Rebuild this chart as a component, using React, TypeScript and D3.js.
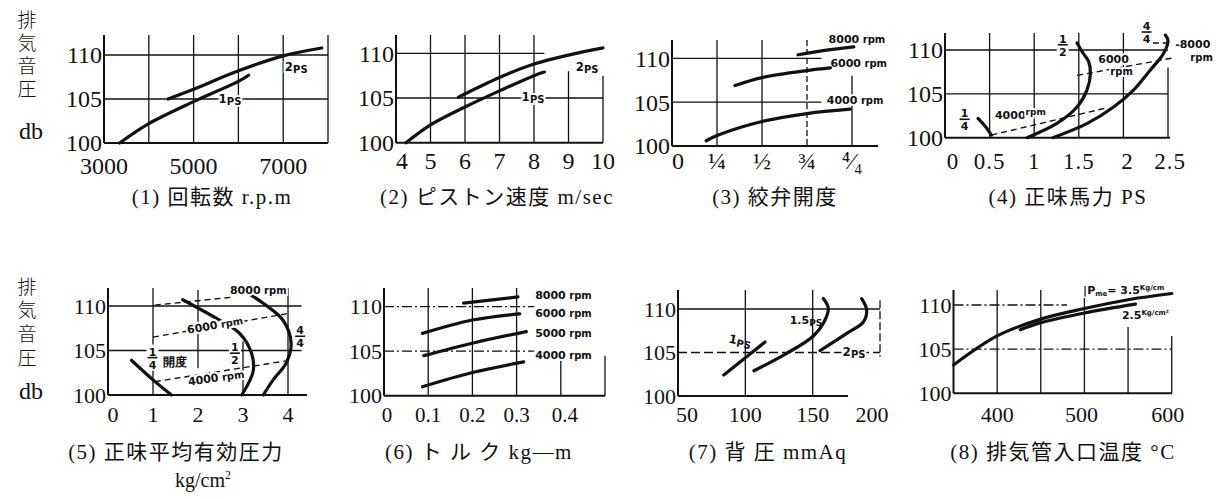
import React from "react";
import * as d3 from "d3";

type Pt = [number, number];

// ---------- data ----------
const yTickValues = [100, 105, 110];
const yTickLabels = ["100", "105", "110"];
const yTitleText = "排気音圧";
const yUnit = "db";

// (1) rpm
const p1TickValues = [3000, 5000, 7000];
const p1TickLabels = ["3000", "5000", "7000"];
const p1Curve1PS: Pt[] = [[3350, 100], [4000, 102.2], [5000, 104.7], [6000, 107.0], [6230, 107.7]];
const p1Curve2PS: Pt[] = [[4430, 105.0], [5000, 106.1], [6000, 108.2], [7000, 109.9], [7860, 110.8]];

// (2) piston speed
const p2TickValues = [4, 5, 6, 7, 8, 9, 10];
const p2TickLabels = ["4", "5", "6", "7", "8", "9", "10"];
const p2Curve1PS: Pt[] = [[4.29, 100], [5, 102.0], [6, 104.0], [7, 105.8], [8, 107.5], [8.3, 107.9]];
const p2Curve2PS: Pt[] = [[5.81, 105.1], [7, 107.3], [8, 108.8], [9, 109.8], [10, 110.6]];

// (3) throttle opening
const p3TickValues = [0, 0.25, 0.5, 0.75, 1];
const p3TickLabels = ["0", "¼", "½", "¾", "⁴⁄₄"];
const p3Curve4000: Pt[] = [[0.19, 100.6], [0.25, 101.2], [0.5, 102.8], [0.75, 103.7], [0.99, 104.2]];
const p3Curve6000: Pt[] = [[0.35, 106.9], [0.5, 107.8], [0.75, 108.6], [0.88, 108.9]];
const p3Curve8000: Pt[] = [[0.7, 110.4], [0.85, 110.9], [1.01, 111.3]];

// (4) brake horsepower
const p4TickValues = [0, 0.5, 1, 1.5, 2, 2.5];
const p4TickLabels = ["0", "0.5", "1", "1.5", "2", "2.5"];
const p4Throttle14: Pt[] = [[0.37, 102.2], [0.45, 101.3], [0.52, 100.3]];
const p4Throttle12: Pt[] = [[0.92, 100], [1.25, 101.6], [1.48, 103.5], [1.59, 105.4], [1.63, 107.3], [1.61, 108.7], [1.55, 109.6], [1.48, 110.8]];
const p4Throttle44: Pt[] = [[1.21, 100], [1.59, 101.6], [1.89, 103.5], [2.11, 105.4], [2.3, 107.7], [2.45, 109.6], [2.5, 111.1], [2.47, 111.7]];
const p4Rpm4000: Pt[] = [[0.52, 100.3], [1.81, 103.4]];
const p4Rpm6000: Pt[] = [[1.48, 107.1], [2.56, 109.1]];
const p4Rpm8000: Pt[] = [[2.33, 110.8], [2.55, 110.8]];

// (5) brake mean effective pressure
const p5TickValues = [0, 1, 2, 3, 4];
const p5TickLabels = ["0", "1", "2", "3", "4"];
const p5Throttle14: Pt[] = [[0.52, 103.9], [1.0, 101.7], [1.41, 100]];
const p5Throttle12: Pt[] = [[1.66, 110.7], [2.41, 108.6], [2.93, 106.9], [3.19, 104.7], [3.23, 102.8], [3.12, 101.3], [2.97, 100]];
const p5Throttle44: Pt[] = [[2.9, 112.1], [3.45, 110.3], [3.89, 108.4], [4.07, 105.8], [3.96, 103.6], [3.67, 101.7], [3.45, 100]];
const p5Rpm4000: Pt[] = [[1.04, 101.5], [4.04, 103.9]];
const p5Rpm6000: Pt[] = [[1.0, 106.5], [4.04, 109.2]];
const p5Rpm8000: Pt[] = [[1.04, 110.1], [2.78, 111.0]];

// (6) torque
const p6TickValues = [0, 0.1, 0.2, 0.3, 0.4];
const p6TickLabels = ["0", "0.1", "0.2", "0.3", "0.4"];
const p6Curve4000: Pt[] = [[0.087, 101.0], [0.2, 102.6], [0.316, 103.8]];
const p6Curve5000: Pt[] = [[0.09, 104.5], [0.2, 105.9], [0.322, 107.2]];
const p6Curve6000: Pt[] = [[0.087, 107.0], [0.2, 108.5], [0.307, 109.2]];
const p6Curve8000: Pt[] = [[0.18, 110.4], [0.303, 111.1]];

// (7) back pressure
const p7TickValues = [50, 100, 150, 200];
const p7TickLabels = ["50", "100", "150", "200"];
const p7Curve1PS: Pt[] = [[84, 102.4], [114.6, 106.2]];
const p7Curve15PS: Pt[] = [[106.4, 102.9], [130.7, 104.9], [150.5, 106.9], [159.1, 108.7], [161.6, 110.1], [157.9, 111.2]];
const p7Curve2PS: Pt[] = [[155.4, 105.2], [175.3, 107.2], [187.6, 108.5], [190.1, 109.9], [186.4, 111.2]];

// (8) exhaust inlet temperature
const p8TickValues = [400, 500, 600];
const p8TickLabels = ["400", "500", "600"];
const p8Curve35: Pt[] = [[350, 103.2], [400, 106.5], [450, 108.4], [500, 109.6], [550, 110.6], [600, 111.3]];
const p8Curve25: Pt[] = [[426.5, 107.2], [450, 108.0], [500, 109.1], [558.5, 110.1]];

const titles = [
  "(1) 回転数 r.p.m",
  "(2) ピストン速度 m/sec",
  "(3) 絞弁開度",
  "(4) 正味馬力 PS",
  "(5) 正味平均有効圧力",
  "(6) ト ル ク kg—m",
  "(7) 背 圧 mmAq",
  "(8) 排気管入口温度 °C",
];

// ---------- rendering ----------
const INK = "#111";
const SERIF = "'Liberation Serif', 'DejaVu Serif', 'Noto Sans CJK JP', serif";
const HAND = "'DejaVu Sans', 'Liberation Sans', sans-serif";

interface Ann {
  x: number;
  y: number;
  kind?: "text" | "frac";
  node?: React.ReactNode;
  num?: string;
  den?: string;
  anchor?: "start" | "middle" | "end";
  rot?: number;
  size?: number;
  halo?: boolean;
}
interface VG { v: number; from?: number; to?: number; dash?: string }
interface HG { v: number; end: number; dash?: string }
interface Cfg {
  xd: [number, number];
  xr: [number, number];
  y100: number;
  y110: number;
  top: number;
  axisEnd: number;
  ticks: number[];
  tickLabels: string[];
  tickDx?: number[];
  tickBase: number;
  tickSize: number;
  tickSpacing?: number;
  ySize: number;
  vGrid: VG[];
  hGrid: HG[];
  solid: Pt[][];
  dashed: Pt[][];
  anns: Ann[];
}

const ps = (n: string, s = 11) => (
  <>
    <tspan fontSize={s + 1}>{n}</tspan>
    <tspan fontSize={s - 1} dy={2}>PS</tspan>
  </>
);

function Panel({ c }: { c: Cfg }) {
  const x = d3.scaleLinear().domain(c.xd).range(c.xr);
  const y = d3.scaleLinear().domain([100, 110]).range([c.y100, c.y110]);
  const line = d3
    .line<Pt>()
    .x((d) => x(d[0]))
    .y((d) => y(d[1]))
    .curve(d3.curveCatmullRom.alpha(0.5));
  const x0 = c.xr[0];
  return (
    <g>
      {c.hGrid.map((g, i) => (
        <line key={"h" + i} x1={x0} x2={x(g.end)} y1={y(g.v)} y2={y(g.v)} stroke={INK} strokeWidth={1.3} strokeDasharray={g.dash} />
      ))}
      {c.vGrid.map((g, i) => (
        <line
          key={"v" + i}
          x1={x(g.v)}
          x2={x(g.v)}
          y1={g.from != null ? y(g.from) : c.top}
          y2={g.to != null ? y(g.to) : c.y100}
          stroke={INK}
          strokeWidth={1.3}
          strokeDasharray={g.dash}
        />
      ))}
      <line x1={x0} x2={x0} y1={c.top} y2={c.y100} stroke={INK} strokeWidth={2} />
      <line x1={x0} x2={c.axisEnd} y1={c.y100} y2={c.y100} stroke={INK} strokeWidth={2} />
      {yTickValues.map((v, i) => (
        <text key={"yt" + i} x={x0 - 2} y={y(v)} dy="0.35em" textAnchor="end" fontSize={c.ySize} fontFamily={SERIF} fill={INK}>
          {yTickLabels[i]}
        </text>
      ))}
      {c.ticks.map((v, i) => (
        <text
          key={"xt" + i}
          x={x(v) + (c.tickDx ? c.tickDx[i] : 0)}
          y={c.tickBase}
          textAnchor="middle"
          fontSize={c.tickSize}
          fontFamily={SERIF}
          letterSpacing={c.tickSpacing || 0}
          fill={INK}
        >
          {c.tickLabels[i]}
        </text>
      ))}
      {c.dashed.map((d, i) => (
        <path key={"d" + i} d={line(d) || ""} fill="none" stroke={INK} strokeWidth={1.4} strokeDasharray="6,4" />
      ))}
      {c.solid.map((d, i) => (
        <path key={"s" + i} d={line(d) || ""} fill="none" stroke={INK} strokeWidth={3.2} strokeLinecap="round" />
      ))}
      {c.anns.map((a, i) => {
        const px = x(a.x);
        const py = y(a.y);
        const s = a.size || 11;
        if (a.kind === "frac") {
          return (
            <g key={"a" + i} fontFamily={HAND} fontWeight="bold" fontSize={s} fill={INK}>
              <rect x={px - 6} y={py - s - 2} width={12} height={2 * s + 4} fill="white" />
              <text x={px} y={py - 2} textAnchor="middle">{a.num}</text>
              <line x1={px - 5} x2={px + 5} y1={py} y2={py} stroke={INK} strokeWidth={1.6} />
              <text x={px} y={py + s} textAnchor="middle">{a.den}</text>
            </g>
          );
        }
        return (
          <text
            key={"a" + i}
            x={px}
            y={py}
            dy="0.35em"
            textAnchor={a.anchor || "start"}
            fontSize={s}
            fontFamily={HAND}
            fontWeight="bold"
            fill={INK}
            stroke={a.halo ? "white" : undefined}
            strokeWidth={a.halo ? 4 : undefined}
            paintOrder="stroke"
            transform={a.rot ? `rotate(${a.rot} ${px} ${py})` : undefined}
          >
            {a.node}
          </text>
        );
      })}
    </g>
  );
}

const rpm = (n: string) => (
  <>
    {n}
    <tspan fontSize={10}> rpm</tspan>
  </>
);

const panels: Cfg[] = [
  {
    xd: [3000, 8000], xr: [104, 328], y100: 143, y110: 55, top: 35, axisEnd: 328,
    ticks: p1TickValues, tickLabels: p1TickLabels, tickBase: 174, tickSize: 24, ySize: 24,
    vGrid: [{ v: 4000 }, { v: 5000 }, { v: 6000 }, { v: 7000 }, { v: 8000 }],
    hGrid: [{ v: 105, end: 8000 }, { v: 110, end: 8000 }],
    solid: [p1Curve1PS, p1Curve2PS], dashed: [],
    anns: [
      { x: 5810, y: 105.0, node: ps("1"), anchor: "middle", halo: true },
      { x: 7290, y: 108.6, node: ps("2"), anchor: "middle", halo: true },
    ],
  },
  {
    xd: [4, 10], xr: [396, 603], y100: 142.7, y110: 53.3, top: 35, axisEnd: 603,
    ticks: p2TickValues, tickLabels: p2TickLabels, tickDx: [6, 0, 0, 0, 0, 0, 0], tickBase: 169, tickSize: 24, ySize: 24,
    vGrid: [{ v: 5 }, { v: 6 }, { v: 7 }, { v: 8 }, { v: 9, from: 108 }, { v: 10, from: 107.5 }],
    hGrid: [{ v: 105, end: 10 }, { v: 110, end: 8.3 }],
    solid: [p2Curve1PS, p2Curve2PS], dashed: [],
    anns: [
      { x: 9.54, y: 108.5, node: ps("2"), anchor: "middle", halo: true },
      { x: 7.97, y: 105.1, node: ps("1"), anchor: "middle", halo: true },
    ],
  },
  {
    xd: [0, 1], xr: [672, 852], y100: 146, y110: 58.3, top: 40, axisEnd: 878,
    ticks: p3TickValues, tickLabels: p3TickLabels, tickDx: [6, 0, 0, 0, 0], tickBase: 169, tickSize: 24, ySize: 24,
    vGrid: [{ v: 0.25 }, { v: 0.5 }, { v: 0.75, dash: "6,3" }, { v: 1, from: 108, to: 100 }],
    hGrid: [{ v: 105, end: 0.83 }, { v: 110, end: 0.83 }],
    solid: [p3Curve4000, p3Curve6000, p3Curve8000], dashed: [],
    anns: [
      { x: 0.87, y: 112.2, node: rpm("8000") },
      { x: 0.88, y: 109.5, node: rpm("6000") },
      { x: 0.86, y: 105.2, node: rpm("4000"), halo: true },
    ],
  },
  {
    xd: [0, 2.5], xr: [945, 1168], y100: 137.7, y110: 50, top: 33, axisEnd: 1170,
    ticks: p4TickValues, tickLabels: p4TickLabels, tickDx: [8, 0, 0, 0, 4, 2], tickBase: 169, tickSize: 23, tickSpacing: 1, ySize: 24,
    vGrid: [{ v: 0.5 }, { v: 1 }, { v: 1.5 }, { v: 2 }, { v: 2.5, from: 108 }],
    hGrid: [{ v: 105, end: 2.5 }, { v: 110, end: 2.5 }],
    solid: [p4Throttle14, p4Throttle12, p4Throttle44], dashed: [p4Rpm4000, p4Rpm6000, p4Rpm8000],
    anns: [
      { x: 0.22, y: 102.1, kind: "frac", num: "1", den: "4" },
      { x: 1.32, y: 110.6, kind: "frac", num: "1", den: "2" },
      { x: 2.26, y: 112.05, kind: "frac", num: "4", den: "4" },
      { x: 0.56, y: 102.6, node: <>4000<tspan fontSize={9} dy={-4}>rpm</tspan></>, halo: true },
      { x: 1.89, y: 109.0, node: "6000", anchor: "middle", halo: true },
      { x: 1.98, y: 107.5, node: "rpm", anchor: "middle", size: 10, halo: true },
      { x: 2.58, y: 110.7, node: "-8000" },
      { x: 2.75, y: 109.2, node: "rpm", size: 10 },
    ],
  },
  {
    xd: [0, 4], xr: [108, 288], y100: 395, y110: 306, top: 288, axisEnd: 307,
    ticks: p5TickValues, tickLabels: p5TickLabels, tickDx: [5, 0, 0, 0, 0], tickBase: 422, tickSize: 22, ySize: 22,
    vGrid: [{ v: 1 }, { v: 2, from: 111.8, to: 103 }, { v: 3, from: 106, to: 100 }, { v: 4 }],
    hGrid: [{ v: 105, end: 4.3 }, { v: 110, end: 4.3 }],
    solid: [p5Throttle14, p5Throttle12, p5Throttle44], dashed: [p5Rpm4000, p5Rpm6000, p5Rpm8000],
    anns: [
      { x: 2.71, y: 111.8, node: rpm("8000"), halo: true },
      { x: 1.76, y: 107.3, node: rpm("6000"), rot: -10, halo: true },
      { x: 1.78, y: 101.5, node: rpm("4000"), rot: -8, halo: true },
      { x: 0.99, y: 104.2, kind: "frac", num: "1", den: "4" },
      { x: 1.22, y: 103.7, node: "開度", size: 12 },
      { x: 2.82, y: 104.7, kind: "frac", num: "1", den: "2" },
      { x: 4.27, y: 106.6, kind: "frac", num: "4", den: "4" },
    ],
  },
  {
    xd: [0, 0.5], xr: [384, 605], y100: 395.7, y110: 306.7, top: 288, axisEnd: 605,
    ticks: p6TickValues, tickLabels: p6TickLabels, tickDx: [3, 0, 0, 0, 4], tickBase: 422, tickSize: 21, ySize: 22,
    vGrid: [{ v: 0.1 }, { v: 0.2 }, { v: 0.3 }, { v: 0.4, from: 104 }, { v: 0.5, from: 104.5 }],
    hGrid: [{ v: 105, end: 0.34, dash: "10,3,2,3" }, { v: 110, end: 0.34, dash: "10,3,2,3" }],
    solid: [p6Curve4000, p6Curve5000, p6Curve6000, p6Curve8000], dashed: [],
    anns: [
      { x: 0.342, y: 111.3, node: rpm("8000") },
      { x: 0.342, y: 109.3, node: rpm("6000") },
      { x: 0.342, y: 107.05, node: rpm("5000") },
      { x: 0.342, y: 104.6, node: rpm("4000"), halo: true },
    ],
  },
  {
    xd: [50, 200], xr: [678, 880], y100: 396, y110: 309, top: 290, axisEnd: 848,
    ticks: p7TickValues, tickLabels: p7TickLabels, tickDx: [9, 0, 0, -8], tickBase: 422, tickSize: 22, ySize: 22,
    vGrid: [{ v: 100 }, { v: 150 }, { v: 200, from: 111, to: 104.5, dash: "8,3" }],
    hGrid: [{ v: 105, end: 200, dash: "9,4" }, { v: 110, end: 200 }],
    solid: [p7Curve1PS, p7Curve15PS, p7Curve2PS], dashed: [],
    anns: [
      { x: 96, y: 106.3, node: ps("1"), anchor: "middle", rot: 12 },
      { x: 145, y: 108.7, node: ps("1.5", 10), anchor: "middle" },
      { x: 180.7, y: 105.0, node: ps("2"), anchor: "middle", halo: true },
    ],
  },
  {
    xd: [350, 600], xr: [953.5, 1171.7], y100: 393.3, y110: 305, top: 290, axisEnd: 1172,
    ticks: p8TickValues, tickLabels: p8TickLabels, tickDx: [0, -3, -4], tickBase: 422, tickSize: 22, ySize: 22,
    vGrid: [{ v: 400 }, { v: 450 }, { v: 500, from: 110.8 }, { v: 550, from: 107.5 }, { v: 600, from: 106.5 }],
    hGrid: [{ v: 105, end: 600, dash: "10,3,2,3" }, { v: 110, end: 480, dash: "10,3,2,3" }],
    solid: [p8Curve35, p8Curve25], dashed: [],
    anns: [
      {
        x: 498.5, y: 111.7,
        node: <>|P<tspan fontSize={7} dy={2}>me</tspan><tspan dy={-2}>= 3.5</tspan><tspan fontSize={7} dy={-4}>Kg/cm</tspan></>,
        size: 11,
      },
      {
        x: 543, y: 108.9,
        node: <>2.5<tspan fontSize={7} dy={-4}>Kg/cm²</tspan></>,
        size: 11,
      },
    ],
  },
];

const titlePos: [number, number][] = [
  [212, 204], [497, 204], [775, 204], [1068, 204],
  [176, 459], [479, 459], [768, 459], [1063, 459],
];

function YTitle({ top, spacing, dbY }: { top: number; spacing: number; dbY: number }) {
  return (
    <g fill={INK}>
      <text
        x={27}
        y={top}
        fontSize={19}
        fontFamily="'Noto Sans CJK JP', sans-serif"
        fontWeight={300}
        letterSpacing={spacing}
        style={{ writingMode: "vertical-rl" }}
      >
        {yTitleText}
      </text>
      <text x={31} y={dbY} dy="0.35em" textAnchor="middle" fontSize={24} fontFamily={SERIF}>
        {yUnit}
      </text>
    </g>
  );
}

export default function App() {
  return (
    <svg width={1223} height={499} style={{ position: "absolute", left: 0, top: 0, background: "white" }}>
      <rect width={1223} height={499} fill="white" />
      <YTitle top={10} spacing={4} dbY={131} />
      <YTitle top={277} spacing={4.7} dbY={391} />
      {panels.map((c, i) => (
        <Panel key={i} c={c} />
      ))}
      {titles.map((t, i) => (
        <text key={"t" + i} x={titlePos[i][0]} y={titlePos[i][1]} textAnchor="middle" fontSize={21} fontFamily={SERIF} letterSpacing={1.5} fill={INK}>
          {t}
        </text>
      ))}
      <text x={203} y={487} textAnchor="middle" fontSize={20} fontFamily={SERIF} fill={INK}>
        kg/cm<tspan fontSize={12} dy={-8}>2</tspan>
      </text>
    </svg>
  );
}
